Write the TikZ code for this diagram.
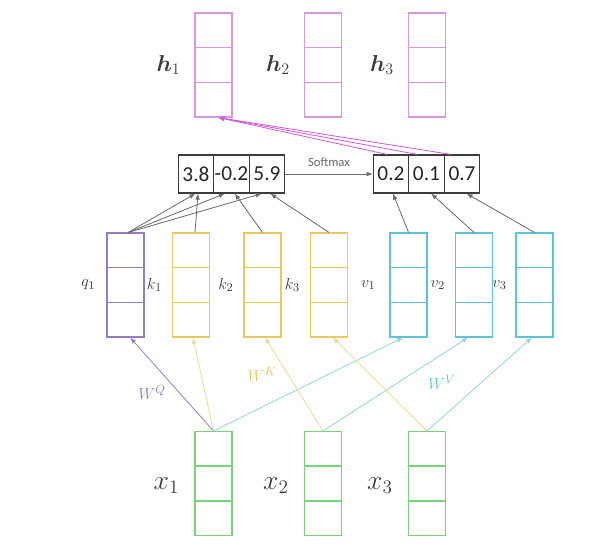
\documentclass[tikz,border=0pt]{standalone}
\usepackage{fontspec}
\setmainfont{Carlito}
\usepackage{amsmath,bm}
\usetikzlibrary{arrows.meta,calc}
\definecolor{hpink}{RGB}{218,150,225}
\definecolor{hline}{RGB}{205,90,215}
\definecolor{qpur}{RGB}{150,125,195}
\definecolor{kyel}{RGB}{232,200,95}
\definecolor{kline}{RGB}{238,215,150}
\definecolor{vblu}{RGB}{95,195,215}
\definecolor{vline}{RGB}{150,210,225}
\definecolor{xgrn}{RGB}{120,212,120}
\definecolor{lgray}{RGB}{105,105,105}
\definecolor{tgray}{RGB}{60,60,60}
\tikzset{
  vec/.style={draw=#1, line width=0.8pt, minimum width=27.75pt, minimum height=78pt, inner sep=0pt,
    path picture={
      \draw[#1, line width=1pt]
        ($(path picture bounding box.north west)!0.3333!(path picture bounding box.south west)$) --
        ($(path picture bounding box.north east)!0.3333!(path picture bounding box.south east)$)
        ($(path picture bounding box.north west)!0.6667!(path picture bounding box.south west)$) --
        ($(path picture bounding box.north east)!0.6667!(path picture bounding box.south east)$);
    }},
  cell/.style={draw=tgray, line width=0.9pt, minimum width=26.6pt, minimum height=28.5pt, inner sep=0pt,
    font=\fontsize{16}{18}\selectfont, text=black!85},
  lab/.style={anchor=east, text=tgray},
  tip/.style={-{Latex[length=4.5pt,width=3.5pt]}},
}
\begin{document}
\begin{tikzpicture}[x=0.75pt,y=-0.75pt]
\useasboundingbox (0,0) rectangle (607,552);
% h vectors
\node[vec=hpink] (h1) at (213.5,65) {};
\node[vec=hpink] (h2) at (323,65) {};
\node[vec=hpink] (h3) at (427,65) {};
\node[lab, font=\fontsize{18}{20}\selectfont] (lh1) at ([xshift=-7pt]h1.west) {$\bm{h}_1$};
\node[lab, font=\fontsize{18}{20}\selectfont] (lh2) at ([xshift=-7pt]h2.west) {$\bm{h}_2$};
\node[lab, font=\fontsize{18}{20}\selectfont] (lh3) at ([xshift=-7pt]h3.west) {$\bm{h}_3$};
% score cells
\node[cell] (s1) at (196,174) {3.8};
\node[cell] (s2) at (231.5,174) {-0.2};
\node[cell] (s3) at (267,174) {5.9};
\node[cell] (p1) at (391,174) {0.2};
\node[cell] (p2) at (426.5,174) {0.1};
\node[cell] (p3) at (462,174) {0.7};
\draw[tip, lgray, line width=0.6pt] (s3.east) -- (p1.west)
  node[midway, yshift=8.5pt, text=lgray, font=\fontsize{9.5}{11}\selectfont] (smx) {Softmax};
% q k v vectors
\node[vec=qpur] (q1) at (125.5,285) {};
\node[vec=kyel] (k1) at (191,285) {};
\node[vec=kyel] (k2) at (262.5,285) {};
\node[vec=kyel] (k3) at (329,285) {};
\node[vec=vblu] (v1) at (408.5,285) {};
\node[vec=vblu] (v2) at (474,285) {};
\node[vec=vblu] (v3) at (534.5,285) {};
\node[lab, font=\fontsize{13}{15}\selectfont] (lq1) at ([xshift=-5pt]q1.west) {$q_1$};
\node[lab, font=\fontsize{13}{15}\selectfont] (lk1) at ([xshift=-4pt]k1.west) {$k_1$};
\node[lab, font=\fontsize{13}{15}\selectfont] (lk2) at ([xshift=-4pt]k2.west) {$k_2$};
\node[lab, font=\fontsize{13}{15}\selectfont] (lk3) at ([xshift=-4pt]k3.west) {$k_3$};
\node[lab, font=\fontsize{13}{15}\selectfont] (lv1) at ([xshift=-7pt]v1.west) {$v_1$};
\node[lab, font=\fontsize{13}{15}\selectfont] (lv2) at ([xshift=-4pt]v2.west) {$v_2$};
\node[lab, font=\fontsize{13}{15}\selectfont] (lv3) at ([xshift=-3pt]v3.west) {$v_3$};
% x vectors
\node[vec=xgrn] (x1) at (213.5,483.5) {};
\node[vec=xgrn] (x2) at (323,483.5) {};
\node[vec=xgrn] (x3) at (427,483.5) {};
\node[lab, font=\fontsize{21}{23}\selectfont] (lx1) at ([xshift=-8pt,yshift=-1.5pt]x1.west) {$x_1$};
\node[lab, font=\fontsize{21}{23}\selectfont] (lx2) at ([xshift=-8pt,yshift=-1.5pt]x2.west) {$x_2$};
\node[lab, font=\fontsize{21}{23}\selectfont] (lx3) at ([xshift=-8pt,yshift=-1.5pt]x3.west) {$x_3$};
% q/k to scores
\begin{scope}[tip, lgray, line width=0.6pt]
\draw ([xshift=2pt]q1.north) -- ([xshift=-0.5pt]s1.south);
\draw ([xshift=2pt]q1.north) -- ([xshift=-5pt]s2.south);
\draw ([xshift=2pt]q1.north) -- ([xshift=-4pt]s3.south);
\draw ([xshift=3pt]k1.north) -- ([xshift=1.5pt]s1.south);
\draw (k2.north) -- ([xshift=2.5pt]s2.south);
\draw (k3.north) -- ([xshift=2.5pt]s3.south);
\draw (v1.north) -- ([xshift=1.5pt]p1.south);
\draw (v2.north) -- ([xshift=3.5pt]p2.south);
\draw (v3.north) -- ([xshift=3.5pt]p3.south);
\end{scope}
% softmax to h1
\begin{scope}[tip, hline, line width=0.6pt]
\draw ([xshift=-3pt]p1.north) -- ([xshift=3.5pt]h1.south);
\draw ([xshift=-7pt]p2.north) -- ([xshift=3.5pt]h1.south);
\draw ([xshift=-8.5pt]p3.north) -- ([xshift=3.5pt]h1.south);
\end{scope}
% x to q k v
\draw[tip, qpur, line width=0.6pt] (x1.north) -- ([xshift=3.5pt]q1.south);
\draw[tip, kline, line width=0.6pt] (x1.north) -- ([xshift=1.5pt]k1.south);
\draw[tip, vline, line width=0.6pt] (x1.north) -- ([xshift=-4pt]v1.south);
\draw[tip, kline, line width=0.6pt] (x2.north) -- ([xshift=2pt]k2.south);
\draw[tip, vline, line width=0.6pt] (x2.north) -- ([xshift=-4.5pt]v2.south);
\draw[tip, kline, line width=0.6pt] (x3.north) -- ([xshift=3pt]k3.south);
\draw[tip, vline, line width=0.6pt] (x3.north) -- ([xshift=-2pt]v3.south);
% weight labels
\node[text=qpur, font=\fontsize{13}{15}\selectfont] (wq) at (152,392) {$W^Q$};
\node[text=kyel, font=\fontsize{13}{15}\selectfont] (wk) at (262,374) {$W^K$};
\node[text=vblu, font=\fontsize{13}{15}\selectfont] (wv) at (442,382) {$W^V$};
\end{tikzpicture}
\end{document}
